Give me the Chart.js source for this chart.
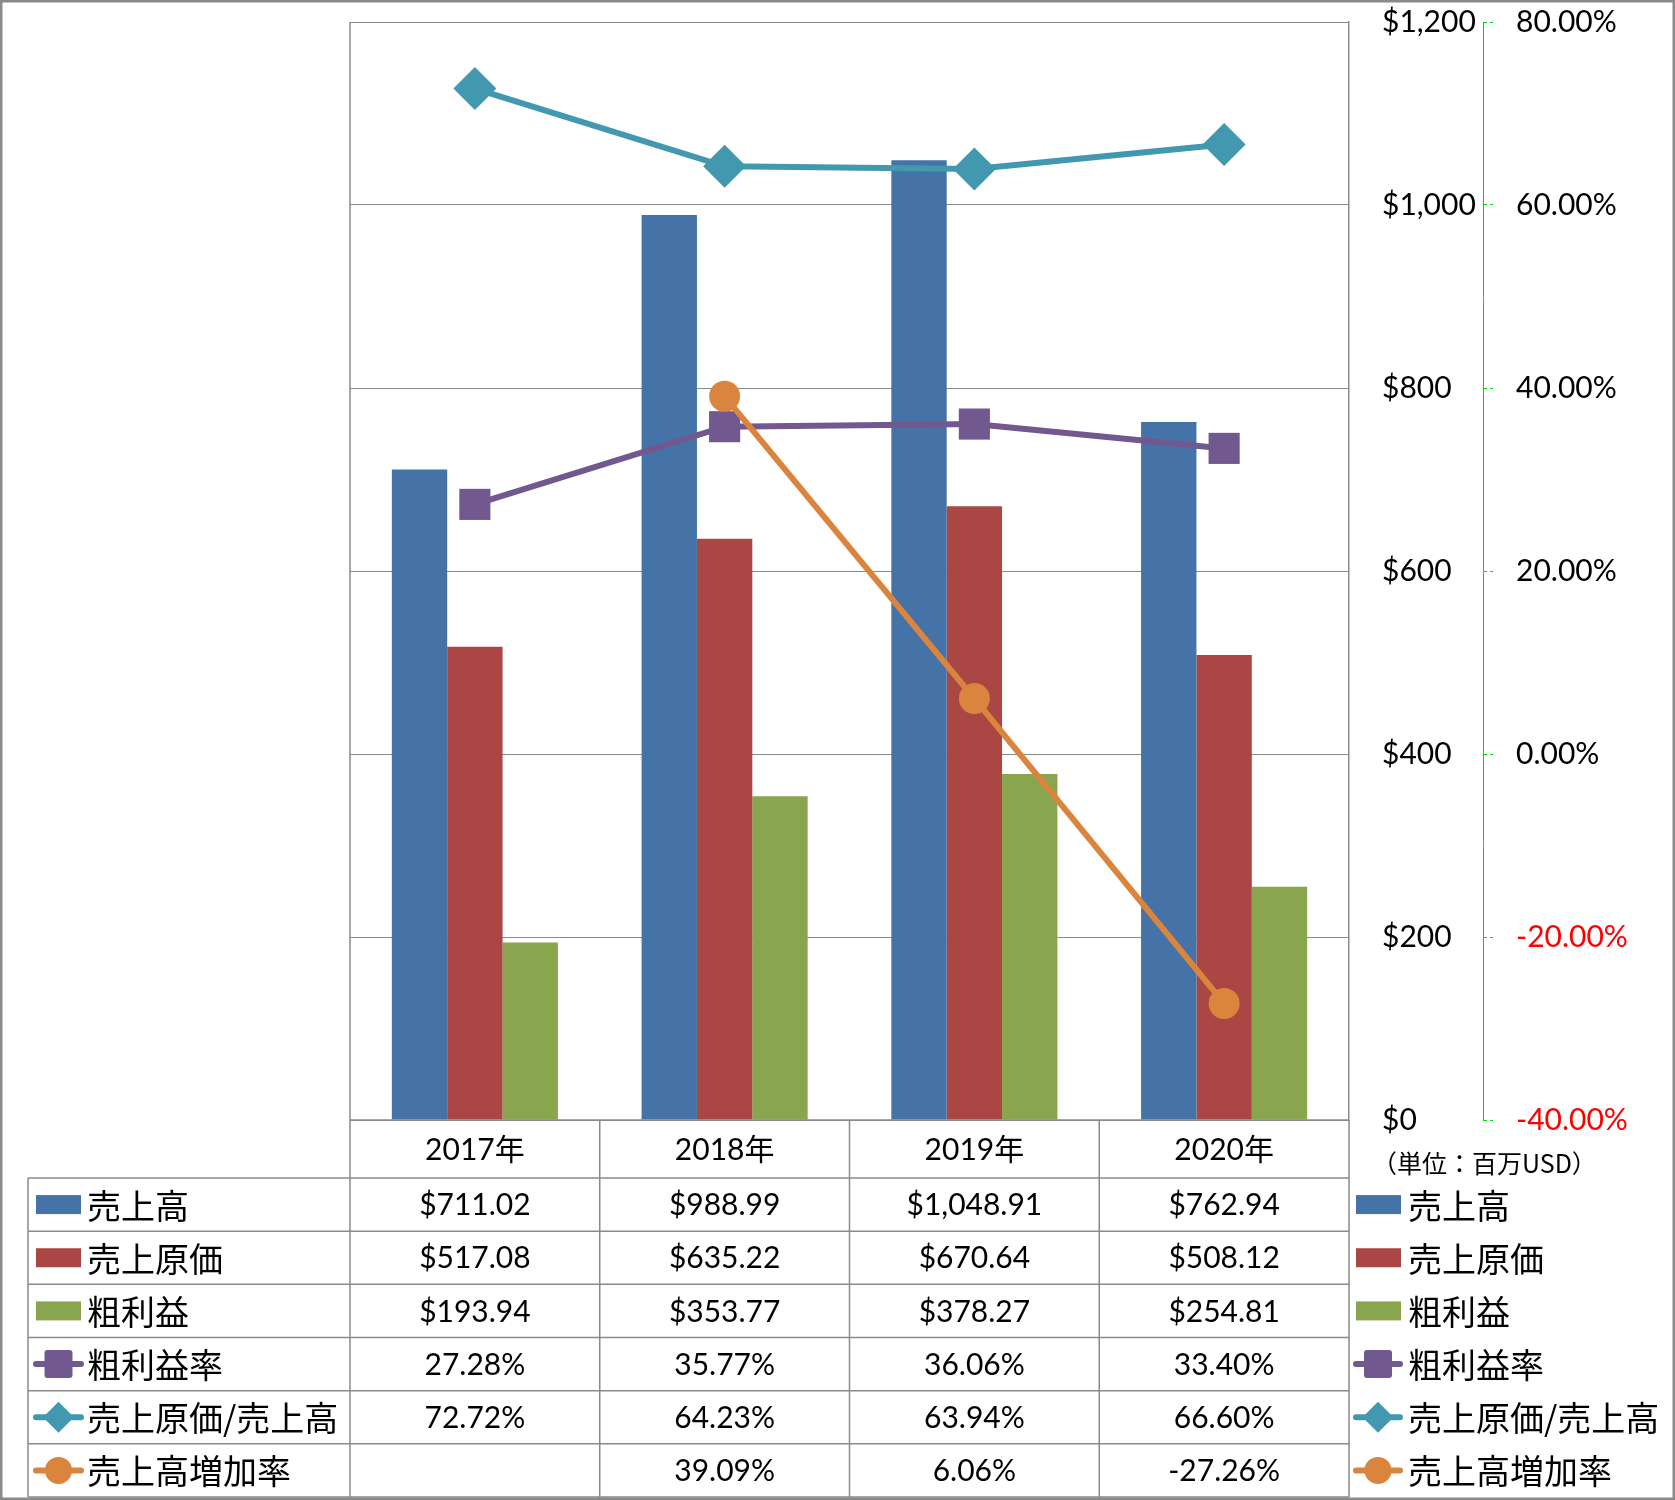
<!DOCTYPE html>
<html><head><meta charset="utf-8">
<script src="https://cdn.jsdelivr.net/npm/chart.js@4/dist/chart.umd.min.js"></script>
<style>html,body{margin:0;padding:0;background:#fff}canvas{display:block}</style>
</head><body>
<canvas id="c" width="1675" height="1500"></canvas>
<script>
const categories = ['2017年', '2018年', '2019年', '2020年'];
const sales = [711.02, 988.99, 1048.91, 762.94];
const costOfSales = [517.08, 635.22, 670.64, 508.12];
const grossProfit = [193.94, 353.77, 378.27, 254.81];
const grossMargin = [27.28, 35.77, 36.06, 33.40];
const costRatio = [72.72, 64.23, 63.94, 66.60];
const salesGrowth = [null, 39.09, 6.06, -27.26];
const seriesNames = ['売上高', '売上原価', '粗利益', '粗利益率', '売上原価/売上高', '売上高増加率'];
const unitLabel = '（単位：百万USD）';

const COLORS = ['#4572A7', '#AA4643', '#89A54E', '#71588F', '#4198AF', '#DB843D'];
const LAT = 'Lato, "Noto Sans CJK JP", sans-serif';
const CJK = '"Noto Sans CJK JP", sans-serif';
const money = v => '$' + v.toLocaleString('en-US', {minimumFractionDigits: 2, maximumFractionDigits: 2});
const pct = v => v.toFixed(2) + '%';

function drawMarker(ctx, idx, x, y, scale) {
  ctx.fillStyle = COLORS[idx];
  ctx.beginPath();
  if (idx === 3) {
    const h = 14 * scale, r = 3;
    ctx.roundRect ? ctx.roundRect(x - h, y - h, 2 * h, 2 * h, r) : ctx.rect(x - h, y - h, 2 * h, 2 * h);
  } else if (idx === 4) {
    const d = 15.5 * scale;
    ctx.moveTo(x, y - d); ctx.lineTo(x + d, y); ctx.lineTo(x, y + d); ctx.lineTo(x - d, y); ctx.closePath();
  } else {
    ctx.arc(x, y, 13.5 * scale, 0, Math.PI * 2);
  }
  ctx.fill();
}

function drawKey(ctx, idx, x0, x1, cy) {
  if (idx < 3) {
    ctx.fillStyle = COLORS[idx];
    ctx.fillRect(x0 + 3, cy - 9.5, 45, 19);
  } else {
    ctx.strokeStyle = COLORS[idx];
    ctx.lineWidth = 6;
    ctx.lineCap = 'round';
    ctx.beginPath(); ctx.moveTo(x0 + 3, cy); ctx.lineTo(x1 - 3, cy); ctx.stroke();
    drawMarker(ctx, idx, (x0 + x1) / 2, cy, 1);
  }
}

const tablePlugin = {
  id: 'dataTable',
  afterDraw(chart) {
    const ctx = chart.ctx, a = chart.chartArea, xs = chart.scales.x;
    const n = categories.length;
    const centers = categories.map((_, i) => xs.getPixelForValue(i));
    const bounds = [a.left];
    for (let i = 0; i < n - 1; i++) bounds.push((centers[i] + centers[i + 1]) / 2);
    bounds.push(a.right);
    const headerTop = a.bottom, headerBottom = a.bottom + 58;
    const tableBottom = 1497, tableLeft = 28;
    const rowH = (tableBottom - headerBottom) / 6;
    const line = (x0, y0, x1, y1) => { ctx.beginPath(); ctx.moveTo(x0, y0); ctx.lineTo(x1, y1); ctx.stroke(); };

    ctx.save();
    ctx.strokeStyle = '#8a8a8a'; ctx.lineWidth = 1.5; ctx.lineCap = 'butt';
    line(a.left, a.top, a.left, tableBottom);
    line(a.left, headerTop, a.right, headerTop);
    for (let r = 0; r <= 6; r++) { const y = headerBottom + r * rowH; line(tableLeft, y, a.right, y); }
    line(tableLeft, headerBottom, tableLeft, tableBottom);
    bounds.slice(1).forEach(x => line(x, headerTop, x, tableBottom));

    ctx.fillStyle = '#000';
    ctx.textAlign = 'center'; ctx.textBaseline = 'middle';
    ctx.font = '30px ' + LAT;
    categories.forEach((c, i) => ctx.fillText(c, centers[i], (headerTop + headerBottom) / 2 + 1));

    const rows = [
      sales.map(money), costOfSales.map(money), grossProfit.map(money),
      grossMargin.map(pct), costRatio.map(pct), salesGrowth.map(v => v == null ? '' : pct(v))
    ];
    rows.forEach((vals, r) => {
      const cy = headerBottom + (r + 0.5) * rowH;
      ctx.fillStyle = '#000'; ctx.textAlign = 'center'; ctx.font = '30px ' + LAT;
      vals.forEach((v, i) => ctx.fillText(v, centers[i], cy + 1));
      drawKey(ctx, r, 33, 84, cy);
      ctx.fillStyle = '#000'; ctx.textAlign = 'left'; ctx.font = '34px ' + CJK;
      ctx.fillText(seriesNames[r], 87, cy + 1);
      drawKey(ctx, r, 1353, 1403, cy);
      ctx.fillStyle = '#000'; ctx.textAlign = 'left'; ctx.font = '34px ' + CJK;
      ctx.fillText(seriesNames[r], 1408, cy + 1);
    });

    ctx.font = '25px ' + CJK; ctx.fillStyle = '#000'; ctx.textAlign = 'left';
    ctx.fillText(unitLabel, 1372, 1163);

    ctx.strokeStyle = '#8a8a8a'; ctx.lineWidth = 2.5;
    ctx.strokeRect(1.25, 1.25, 1675 - 2.5, 1500 - 2.5);
    ctx.restore();
  }
};

new Chart(document.getElementById('c'), {
  type: 'bar',
  data: {
    labels: categories,
    datasets: [
      {label: seriesNames[0], data: sales, backgroundColor: COLORS[0], yAxisID: 'y', order: 4},
      {label: seriesNames[1], data: costOfSales, backgroundColor: COLORS[1], yAxisID: 'y', order: 4},
      {label: seriesNames[2], data: grossProfit, backgroundColor: COLORS[2], yAxisID: 'y', order: 4},
      {type: 'line', label: seriesNames[3], data: grossMargin, yAxisID: 'y2', order: 3,
       borderColor: COLORS[3], backgroundColor: COLORS[3], borderWidth: 6,
       pointStyle: 'rect', pointRadius: 22, pointBorderWidth: 0, tension: 0},
      {type: 'line', label: seriesNames[4], data: costRatio, yAxisID: 'y2', order: 2,
       borderColor: COLORS[4], backgroundColor: COLORS[4], borderWidth: 6,
       pointStyle: 'rectRot', pointRadius: 21.5, pointBorderWidth: 0, tension: 0},
      {type: 'line', label: seriesNames[5], data: salesGrowth, yAxisID: 'y2', order: 1,
       borderColor: COLORS[5], backgroundColor: COLORS[5], borderWidth: 6,
       pointStyle: 'circle', pointRadius: 15.5, pointBorderWidth: 0, tension: 0}
    ]
  },
  options: {
    responsive: false,
    animation: false,
    layout: {padding: {left: 350, right: 0, top: 22, bottom: 380}},
    datasets: {bar: {categoryPercentage: 0.665, barPercentage: 1.0}},
    plugins: {legend: {display: false}, tooltip: {enabled: false}},
    scales: {
      x: {display: false, offset: true},
      y: {
        position: 'right', weight: 0, min: 0, max: 1200,
        ticks: {stepSize: 200, padding: 33, color: '#000', font: {family: LAT, size: 30},
                callback: v => '$' + Number(v).toLocaleString('en-US')},
        grid: {color: '#8a8a8a', lineWidth: 1, drawTicks: false},
        border: {display: true, color: '#8a8a8a', width: 1.5},
        afterFit(s) { s.width = 134; s.paddingTop = 0; s.paddingBottom = 0; }
      },
      y2: {
        position: 'right', weight: 1, min: -40, max: 80,
        ticks: {stepSize: 20, padding: 23, font: {family: LAT, size: 30},
                color: c => (c.tick && c.tick.value < 0) ? '#ff0000' : '#000',
                callback: v => Number(v).toFixed(2) + '%'},
        grid: {drawOnChartArea: false, drawTicks: true, tickLength: 10, tickColor: '#00e000',
               tickWidth: 1, tickBorderDash: [3, 3]},
        border: {display: true, color: '#00e000', width: 1, dash: [4, 3]},
        afterFit(s) { s.width = 192; s.paddingTop = 0; s.paddingBottom = 0; }
      }
    }
  },
  plugins: [tablePlugin]
});
</script>
</body></html>
